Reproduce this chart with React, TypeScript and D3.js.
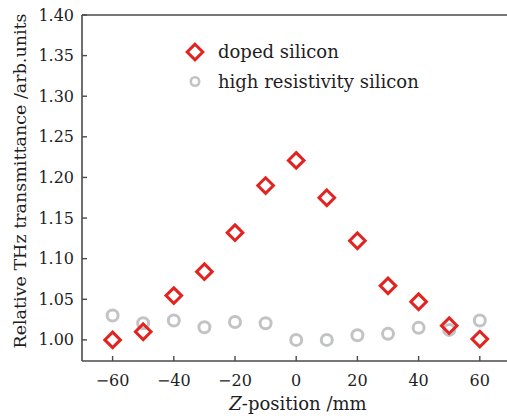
import * as d3 from 'd3';
import React from 'react';

// values
const positions = [-60, -50, -40, -30, -20, -10, 0, 10, 20, 30, 40, 50, 60];
const dopedSilicon = [1.0, 1.01, 1.0545, 1.084, 1.132, 1.19, 1.221, 1.175, 1.122, 1.0665, 1.047, 1.0175, 1.001];
const highResSilicon = [1.03, 1.0205, 1.0238, 1.0156, 1.022, 1.0205, 1.0, 1.0, 1.0057, 1.0074, 1.0148, 1.0123, 1.0238];
const xTicks = [-60, -40, -20, 0, 20, 40, 60];
const yTicks = [1.0, 1.05, 1.1, 1.15, 1.2, 1.25, 1.3, 1.35, 1.4];
const legendLabels = ['doped silicon', 'high resistivity silicon'];

const W = 507, H = 418;
const plot = { left: 82, top: 15, bottom: 361 };
const font = '"DejaVu Serif", serif';
const red = '#e2231f';
const grey = '#c2c3c5';
const axisColor = '#4a4a4a';
const ink = '#1e1e1e';

const diamond = (cx: number, cy: number, r: number) =>
    `M${cx},${cy - r}L${cx + r},${cy}L${cx},${cy + r}L${cx - r},${cy}Z`;

export default function App() {
    const x = d3.scaleLinear().domain([-70, 70]).range([plot.left, plot.left + 140 * 3.06]);
    const y = d3.scaleLinear().domain([0.974, 1.4]).range([plot.bottom, plot.top]);
    const fy = d3.format('.2f');
    const fx = d3.format('d');

    return (
        <svg width={W} height={H} style={{ position: 'absolute', left: 0, top: 0, background: '#fff' }}
            fontFamily={font}>
            {/* frame: left, bottom and top lines */}
            <g stroke={axisColor} strokeWidth={1.6} fill="none">
                <line x1={plot.left} x2={plot.left} y1={plot.top} y2={plot.bottom} />
                <line x1={plot.left} x2={W} y1={plot.bottom} y2={plot.bottom} />
                <line x1={plot.left} x2={W} y1={plot.top} y2={plot.top} />
            </g>

            {/* y axis */}
            {yTicks.map(t => (
                <g key={'y' + t}>
                    <line x1={plot.left} x2={plot.left + 5} y1={y(t)} y2={y(t)} stroke={axisColor} strokeWidth={1.4} />
                    <text x={plot.left - 8} y={y(t)} dy="0.35em" textAnchor="end" fontSize={16} fill={ink}>{fy(t)}</text>
                </g>
            ))}

            {/* x axis */}
            {xTicks.map(t => (
                <g key={'x' + t}>
                    <line x1={x(t)} x2={x(t)} y1={plot.bottom} y2={plot.bottom - 5} stroke={axisColor} strokeWidth={1.4} />
                    <text x={x(t)} y={386} textAnchor="middle" fontSize={16} fill={ink}>{fx(t)}</text>
                </g>
            ))}

            <text x={298} y={410} textAnchor="middle" fontSize={18} fill={ink}>
                <tspan fontStyle="italic">Z</tspan>-position /mm
            </text>
            <text transform={`translate(26,181) rotate(-90)`} textAnchor="middle"
                fontSize={17.5} fill={ink}>Relative THz transmittance /arb.units</text>

            {/* data */}
            <g fill="none" stroke={grey} strokeWidth={3}>
                {positions.map((p, i) => (
                    <circle key={'c' + p} cx={x(p)} cy={y(highResSilicon[i])} r={5.5} />
                ))}
            </g>
            <g fill="none" stroke={red} strokeWidth={3}>
                {positions.map((p, i) => (
                    <path key={'d' + p} d={diamond(x(p), y(dopedSilicon[i]), 7.8)} />
                ))}
            </g>

            {/* legend */}
            <path d={diamond(195, 52, 7.8)} fill="none" stroke={red} strokeWidth={3} />
            <text x={218} y={57.5} fontSize={18} fill={ink}>{legendLabels[0]}</text>
            <circle cx={195} cy={81.5} r={4.2} fill="none" stroke={grey} strokeWidth={2.6} />
            <text x={218} y={87.5} fontSize={18} fill={ink}>{legendLabels[1]}</text>
        </svg>
    );
}
